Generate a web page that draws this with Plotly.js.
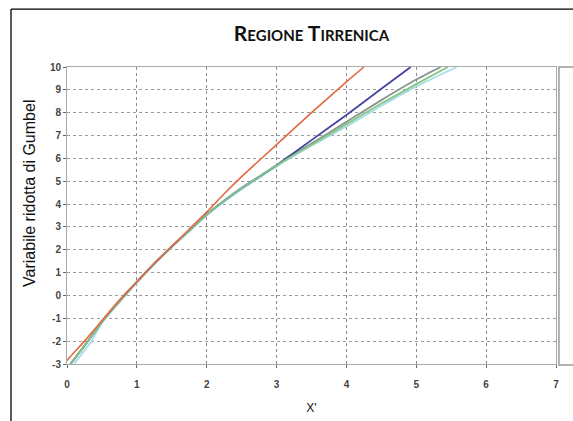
<!DOCTYPE html>
<html><head><meta charset="utf-8">
<script src="https://cdn.plot.ly/plotly-3.0.1.min.js"></script>
<style>html,body{margin:0;padding:0;background:#fff}#c{width:573px;height:421px}</style>
</head><body><div id="c"></div>
<script>
// Data (x' vs Gumbel reduced variate)
const redX  = [0, 0.1, 0.25, 0.5, 0.75, 1.0, 1.25, 1.5, 1.75, 2.0, 2.25, 2.5, 3.0, 3.5, 4.0, 4.25];
const redY  = [-2.85, -2.5, -2.0, -1.1, -0.2, 0.6, 1.4, 2.15, 2.9, 3.65, 4.45, 5.2, 6.6, 8.0, 9.35, 10];
const blueX = [0.05, 0.15, 0.3, 0.5, 0.75, 1.0, 1.25, 1.5, 1.75, 2.0, 2.25, 2.5, 2.75, 3.0, 3.25, 3.5, 4.0, 4.5, 4.92];
const blueY = [-3, -2.6, -2.0, -1.15, -0.25, 0.6, 1.4, 2.15, 2.85, 3.55, 4.15, 4.7, 5.2, 5.7, 6.25, 6.8, 7.9, 9.05, 10];
const grayX = [0.05, 0.15, 0.3, 0.5, 0.75, 1.0, 1.25, 1.5, 1.75, 2.0, 2.25, 2.5, 2.75, 3.0, 3.5, 4.0, 4.5, 5.0, 5.35];
const grayY = [-3, -2.6, -2.0, -1.15, -0.25, 0.6, 1.4, 2.15, 2.85, 3.55, 4.15, 4.7, 5.2, 5.7, 6.65, 7.6, 8.55, 9.45, 10];
const greenX = [0.05, 0.15, 0.3, 0.5, 0.75, 1.0, 1.25, 1.5, 1.75, 2.0, 2.25, 2.5, 2.75, 3.0, 3.5, 4.0, 4.5, 5.0, 5.45];
const greenY = [-3, -2.6, -2.0, -1.15, -0.25, 0.6, 1.4, 2.15, 2.85, 3.55, 4.15, 4.7, 5.2, 5.7, 6.6, 7.5, 8.4, 9.25, 10];
const cyanX = [0.1, 0.2, 0.35, 0.5, 0.75, 1.0, 1.25, 1.5, 1.75, 2.0, 2.25, 2.5, 2.75, 3.0, 3.5, 4.0, 4.5, 5.0, 5.58];
const cyanY = [-3, -2.6, -2.0, -1.2, -0.3, 0.55, 1.35, 2.1, 2.8, 3.5, 4.1, 4.65, 5.15, 5.65, 6.55, 7.4, 8.3, 9.15, 10];
const xTicks = [0, 1, 2, 3, 4, 5, 6, 7];
const yTicks = [-3, -2, -1, 0, 1, 2, 3, 4, 5, 6, 7, 8, 9, 10];

const mk = (x, y, color, w) => ({x, y, type: 'scatter', mode: 'lines', line: {color, width: w, shape: 'spline', smoothing: 0.6}, hoverinfo: 'skip'});
const data = [
  mk(cyanX, cyanY, '#a8dcea', 1.8),
  mk(grayX, grayY, '#8a948e', 1.8),
  mk(blueX, blueY, '#44449c', 1.8),
  mk(greenX, greenY, '#86c686', 1.8),
  mk(redX, redY, '#e2693f', 1.6)
];

const layout = {
  width: 573, height: 421,
  margin: {l: 67, r: 17, t: 67, b: 57},
  paper_bgcolor: '#fff', plot_bgcolor: '#fff',
  showlegend: false,
  font: {family: 'Liberation Sans, Arial, sans-serif', color: '#333'},
  title: {
    text: 'R<span style="font-size:15px">EGIONE</span> T<span style="font-size:15px">IRRENICA</span>',
    font: {family: 'Lato, Liberation Sans, sans-serif', size: 21, color: '#111', weight: 'bold'},
    x: 0.5, xanchor: 'center', y: 0.921, yanchor: 'middle', xref: 'paper'
  },
  xaxis: {
    range: [0, 7], tickvals: xTicks, ticktext: xTicks.map(String),
    showgrid: true, gridcolor: '#8a8a8a', griddash: 'dot', gridwidth: 1,
    zeroline: false, showline: true, linecolor: '#aaa', linewidth: 1, mirror: true,
    ticks: 'outside', ticklen: 3, tickcolor: '#666', ticklabelstandoff: 8,
    tickfont: {size: 10, color: '#444', family: 'Liberation Sans, Arial, sans-serif', weight: 'bold'},
    title: {text: "X'", font: {size: 12, color: '#111'}, standoff: 14}
  },
  yaxis: {
    range: [-3, 10], tickvals: yTicks, ticktext: yTicks.map(String),
    showgrid: true, gridcolor: '#9a9a9a', griddash: 'dot', gridwidth: 1,
    zeroline: false, showline: true, linecolor: '#aaa', linewidth: 1, mirror: true,
    ticks: 'outside', ticklen: 3, tickcolor: '#666',
    tickfont: {size: 10, color: '#444', family: 'Liberation Sans, Arial, sans-serif', weight: 'bold'}
  },
  annotations: [
    {text: 'Variabile ridotta di Gumbel', textangle: -90, xref: 'paper', yref: 'paper',
     x: -0.0757, y: 0.576, xanchor: 'center', yanchor: 'middle', showarrow: false,
     font: {size: 16, color: '#111', family: 'Liberation Sans, Arial, sans-serif'}}
  ],
  shapes: [
    {type: 'line', xref: 'paper', yref: 'paper', x0: -0.1145, x1: -0.1145, y0: 1.195, y1: -0.2, line: {color: '#000', width: 1.3}},
    {type: 'line', xref: 'paper', yref: 'paper', x0: -0.1145, x1: 1.1, y0: 1.195, y1: 1.195, line: {color: '#000', width: 1.3}},
    {type: 'rect', xref: 'paper', yref: 'paper', x0: 1.006, x1: 1.2, y0: -0.003, y1: 1.0, line: {color: '#999', width: 1.5}}
  ]
};
Plotly.newPlot('c', data, layout, {displayModeBar: false, staticPlot: true});
</script></body></html>
